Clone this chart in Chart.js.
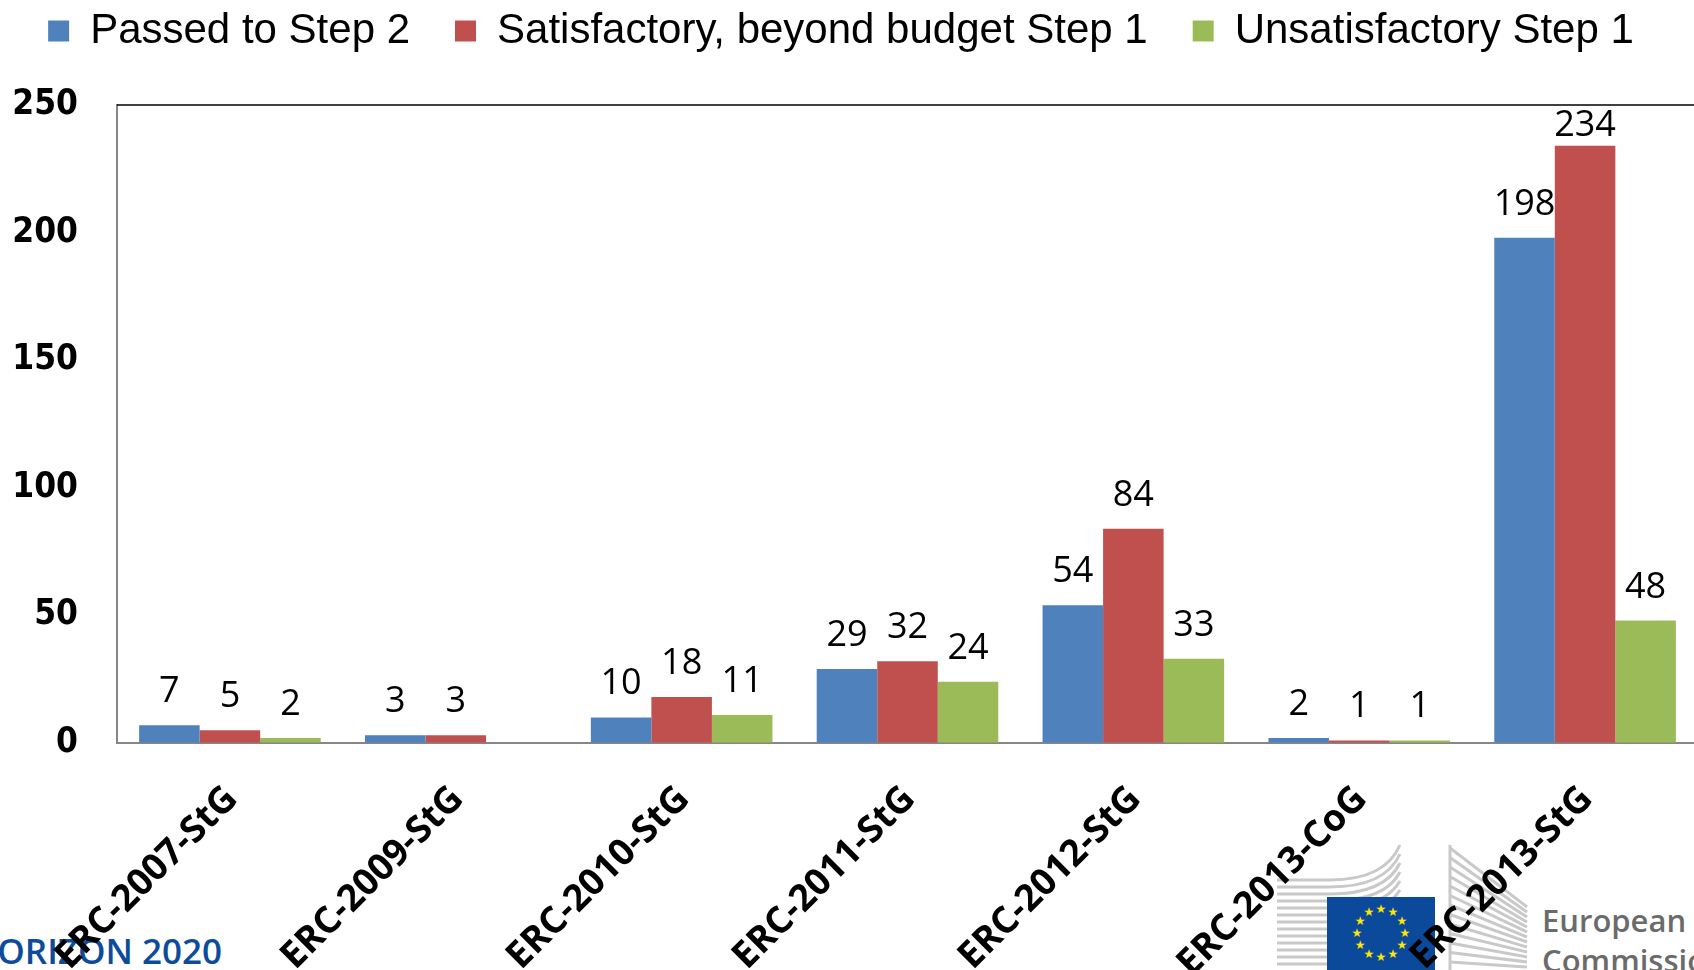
<!DOCTYPE html>
<html>
<head>
<meta charset="utf-8">
<title>ERC calls – Step 1 outcomes</title>
<script src="https://cdn.jsdelivr.net/npm/chart.js@4.4.1/dist/chart.umd.min.js"></script>
<style>
  html, body { margin: 0; padding: 0; background: #fff; overflow: hidden; }
  #wrap { position: relative; width: 1694px; height: 970px; overflow: hidden; }
  #deco { position: absolute; left: 0; top: 0; z-index: 0; }
  #chart { position: absolute; left: 0; top: 0; z-index: 1; }
</style>
</head>
<body>
<div id="wrap">
  <svg id="deco" width="1694" height="970" xmlns="http://www.w3.org/2000/svg">
    <g id="building" fill="none" stroke="#c9c9c9" stroke-width="3"></g>
    <rect x="1327" y="897" width="108" height="80" fill="#0b4a9a"/>
    <g id="stars" fill="#ffe500" font-family="DejaVu Sans" font-size="12" text-anchor="middle"></g>
    <text x="-29" y="964" font-family="Open Sans" font-weight="600" font-size="35" fill="#0d4c9b">HORIZON 2020</text>
    <text x="1542" y="932" font-family="Open Sans" font-weight="600" font-size="31" fill="#6b6b6b">European</text>
    <text x="1542" y="972" font-family="Open Sans" font-weight="600" font-size="31" fill="#6b6b6b">Commission</text>
  </svg>
  <canvas id="chart" width="1700" height="970"></canvas>
</div>
<script>
// ---------------- data ----------------
const categories = ["ERC-2007-StG", "ERC-2009-StG", "ERC-2010-StG", "ERC-2011-StG",
                    "ERC-2012-StG", "ERC-2013-CoG", "ERC-2013-StG"];
const passedStep2     = [7, 3, 10, 29, 54, 2, 198];
const beyondBudget    = [5, 3, 18, 32, 84, 1, 234];
const unsatisfactory  = [2, 0, 11, 24, 33, 1, 48];
const seriesNames  = ["Passed to Step 2", "Satisfactory, beyond budget Step 1", "Unsatisfactory Step 1"];
const seriesColors = ["#4f81bd", "#c0504d", "#9bbb59"];
const yTicks = [0, 50, 100, 150, 200, 250];

// ---------------- logo decoration (behind the chart) ----------------
(function drawDeco() {
  const ns = "http://www.w3.org/2000/svg";
  const b = document.getElementById("building");
  for (let i = 0; i < 13; i++) {
    const p = document.createElementNS(ns, "path");
    const yl = 880 + i * 7, yr = 845 + i * 9;
    p.setAttribute("d", `M1277 ${yl} L1330 ${yl} Q1385 ${yl} 1400 ${yr}`);
    b.appendChild(p);
    const q = document.createElementNS(ns, "path");
    q.setAttribute("d", `M1450 ${848 + i * 9.5} L1527 ${907 + i * 5}`);
    b.appendChild(q);
  }
  const v = document.createElementNS(ns, "path");
  v.setAttribute("d", "M1450 845 L1450 970");
  b.appendChild(v);
  const s = document.getElementById("stars");
  for (let i = 0; i < 12; i++) {
    const a = i * Math.PI / 6;
    const t = document.createElementNS(ns, "text");
    t.setAttribute("x", (1381 + 24 * Math.sin(a)).toFixed(1));
    t.setAttribute("y", (937 - 24 * Math.cos(a)).toFixed(1));
    t.textContent = "\u2605";
    s.appendChild(t);
  }
})();

// is a local font installed? (compare against the monospace fallback)
const probe = document.createElement("canvas").getContext("2d");
function hasFont(name, weight) {
  const w = weight || "normal";
  const sample = "Passed 0123456789 ERC";
  probe.font = `${w} 100px monospace`;
  const a = probe.measureText(sample).width;
  probe.font = `${w} 100px "${name}", monospace`;
  return Math.abs(probe.measureText(sample).width - a) > 1;
}

// legend font: narrow Liberation if present, sized to the legend width of the original
function pickLegendFont() {
  const family = hasFont("Liberation Sans Narrow") ? '"Liberation Sans Narrow"' : '"Liberation Sans"';
  probe.font = "100px " + family;
  const size = Math.round(322 / probe.measureText(seriesNames[0]).width * 100);
  return { family, size };
}
const legendFont = pickLegendFont();
const yFont = hasFont("DejaVu Sans Condensed", "bold")
  ? { family: '"DejaVu Sans Condensed"', weight: "bold", size: 35 }
  : { family: '"DejaVu Sans"', weight: "bold", size: 32 };

// legend geometry: text centre at y=31, plot top at y=105
// (Chart.js legend height = itemHeight + padding + 10 for one row)
const legendPad = 45;
const legendMid = 31;
const legendItemH = Math.max(legendFont.size, 21);
const legendTop = legendMid - legendPad - legendItemH / 2;
const legendExtra = 105 - 10 - (legendMid + legendItemH / 2);
const shiftLeft = 16;   // moves the centred legend a little to the left

const legendSpacer = {
  id: "legendSpacer",
  beforeInit(chart) {
    const legend = chart.legend;
    if (!legend) return;
    const fit = legend.fit;
    legend.fit = function () { fit.call(this); this.height += legendExtra; };
  }
};

// value labels above bars + top frame line
const barLabels = {
  id: "barLabels",
  afterDatasetsDraw(chart) {
    const { ctx, chartArea } = chart;
    ctx.save();
    ctx.strokeStyle = "#000";
    ctx.lineWidth = 1.5;
    ctx.beginPath();
    ctx.moveTo(chartArea.left, chartArea.top);
    ctx.lineTo(chartArea.right, chartArea.top);
    ctx.stroke();

    ctx.font = '36px "Open Sans"';
    ctx.fillStyle = "#000";
    ctx.textAlign = "center";
    ctx.textBaseline = "alphabetic";
    chart.data.datasets.forEach((ds, i) => {
      chart.getDatasetMeta(i).data.forEach((bar, j) => {
        const v = ds.data[j];
        if (!v) return;
        const y = Math.max(bar.y - 23, chartArea.top + 31);
        ctx.fillText(String(v), bar.x, y);
      });
    });
    ctx.restore();
  }
};

const series = [passedStep2, beyondBudget, unsatisfactory];

new Chart(document.getElementById("chart").getContext("2d"), {
  type: "bar",
  data: {
    labels: categories,
    datasets: series.map((d, i) => ({
      label: seriesNames[i],
      data: d,
      backgroundColor: seriesColors[i],
      borderWidth: 0,
      categoryPercentage: 0.804,
      barPercentage: 1.0
    }))
  },
  options: {
    responsive: false,
    animation: false,
    devicePixelRatio: 1,
    layout: { padding: { top: legendTop, right: 2, left: -shiftLeft, bottom: 0 } },
    plugins: {
      legend: {
        position: "top",
        labels: {
          boxWidth: 21,
          boxHeight: 21,
          padding: legendPad,
          color: "#000",
          font: { family: legendFont.family, size: legendFont.size }
        }
      },
      tooltip: { enabled: false }
    },
    scales: {
      x: {
        grid: { drawOnChartArea: false, drawTicks: false },
        border: { color: "#868686", width: 2 },
        ticks: {
          autoSkip: false,
          minRotation: 45,
          maxRotation: 45,
          color: "#000",
          font: { family: '"Open Sans"', weight: "bold", size: 37, lineHeight: 1 },
          padding: 37,
          labelOffset: 2
        },
        afterFit: s => { s.height = 227; }
      },
      y: {
        min: 0,
        max: 250,
        grid: { drawOnChartArea: false, drawTicks: false },
        border: { color: "#868686", width: 2 },
        ticks: {
          color: "#000",
          font: yFont,
          padding: 39
        },
        afterBuildTicks: s => { s.ticks = yTicks.map(v => ({ value: v })); },
        afterFit: s => { s.width = 117 + shiftLeft; }
      }
    }
  },
  plugins: [barLabels, legendSpacer]
});
</script>
</body>
</html>
